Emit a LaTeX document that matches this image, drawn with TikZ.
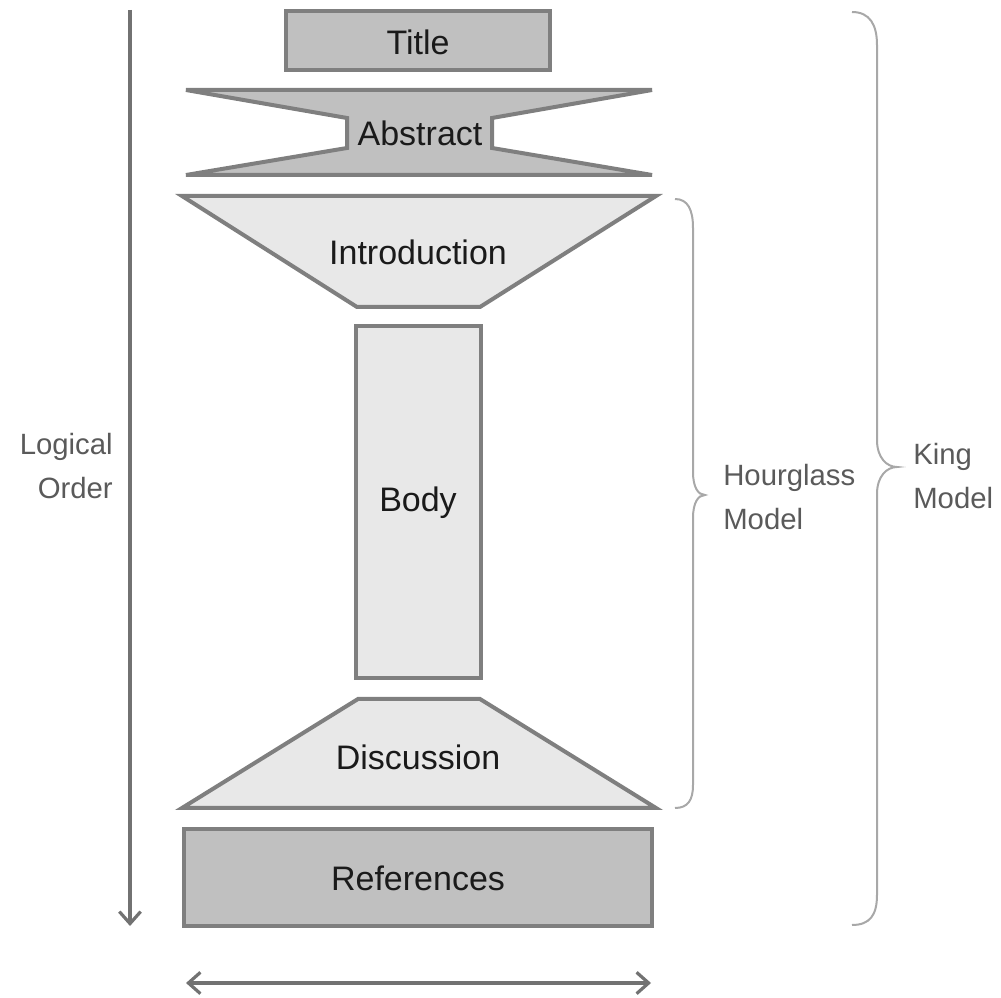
\documentclass[tikz,border=0pt]{standalone}
\usepackage{fontspec}
\setmainfont{Liberation Sans}
\usetikzlibrary{arrows.meta}
\definecolor{darkfill}{HTML}{C0C0C0}
\definecolor{lightfill}{HTML}{E8E8E8}
\definecolor{edge}{HTML}{7F7F7F}
\definecolor{labelgray}{HTML}{5A5A5A}
\definecolor{bracegray}{HTML}{A8A8A8}
\definecolor{ink}{HTML}{1A1A1A}
\begin{document}
\begin{tikzpicture}[x=0.75pt,y=-0.75pt,
  block/.style={draw=edge,line width=3pt,line join=miter},
  boxlabel/.style={inner sep=0pt,text=ink,font=\fontsize{25.5pt}{30pt}\selectfont},
  sidelabel/.style={inner sep=0pt,text=labelgray,font=\fontsize{22pt}{33pt}\selectfont},
  flow/.style={draw=edge!90!black,line width=2.4pt},
  brace/.style={draw=bracegray,line width=1.5pt}]
\useasboundingbox (0,0) rectangle (1001,998);

% Title
\draw[block,fill=darkfill] (286,11) rectangle (550,70);
\node[boxlabel] (title) at (418,42) {Title};

% Abstract (bow-tie shape)
\draw[block,fill=darkfill] (186,90) -- (652,90) -- (492,118) -- (492,148) -- (652,175)
  -- (186,175) -- (347,148) -- (347,118) -- cycle;
\node[boxlabel] (abstract) at (420,133) {Abstract};

% Introduction (funnel)
\draw[block,fill=lightfill] (182,196) -- (656,196) -- (480,307) -- (357,307) -- cycle;
\node[boxlabel] (intro) at (418,252) {Introduction};

% Body
\draw[block,fill=lightfill] (356,326) rectangle (481,678);
\node[boxlabel] (body) at (418,503) {Body};

% Discussion (inverted funnel)
\draw[block,fill=lightfill] (358,699) -- (480,699) -- (656,808) -- (182,808) -- cycle;
\node[boxlabel] (discussion) at (418,757) {Discussion};

% References
\draw[block,fill=darkfill] (184,829) rectangle (652,926);
\node[boxlabel] (refs) at (418,878) {References};

% Logical order arrow
\coordinate (orderTop) at (130,10);
\coordinate (orderEnd) at (130,926);
\draw[flow,-{Straight Barb[length=9pt,width=16pt,line width=2.4pt]}] (orderTop) -- (orderEnd);
\node[sidelabel,align=right,anchor=east] (logical) at (113,466) {Logical\\Order};

% Width arrow
\coordinate (widthL) at (186,983);
\coordinate (widthR) at (651,983);
\draw[flow,{Straight Barb[length=9pt,width=16pt,line width=2.4pt]}-{Straight Barb[length=9pt,width=16pt,line width=2.4pt]}] (widthL) -- (widthR);

% Hourglass brace
\draw[brace] (675,199) .. controls (688,199) and (693,210) .. (693,228) -- (693,472)
  .. controls (693,487) and (698,495) .. (705,495)
  .. controls (698,495) and (693,503) .. (693,518) -- (693,785)
  .. controls (693,800) and (688,808) .. (675,808);
\node[sidelabel,align=left,anchor=west] (hourglass) at (723,497) {Hourglass\\Model};

% King brace
\draw[brace] (852,12) .. controls (870,12) and (877,25) .. (877,45) -- (877,440)
  .. controls (877,458) and (887,467) .. (897,467)
  .. controls (887,467) and (877,476) .. (877,494) -- (877,895)
  .. controls (877,915) and (870,925) .. (852,925);
\node[sidelabel,align=left,anchor=west] (king) at (913,476) {King\\Model};
\end{tikzpicture}
\end{document}
